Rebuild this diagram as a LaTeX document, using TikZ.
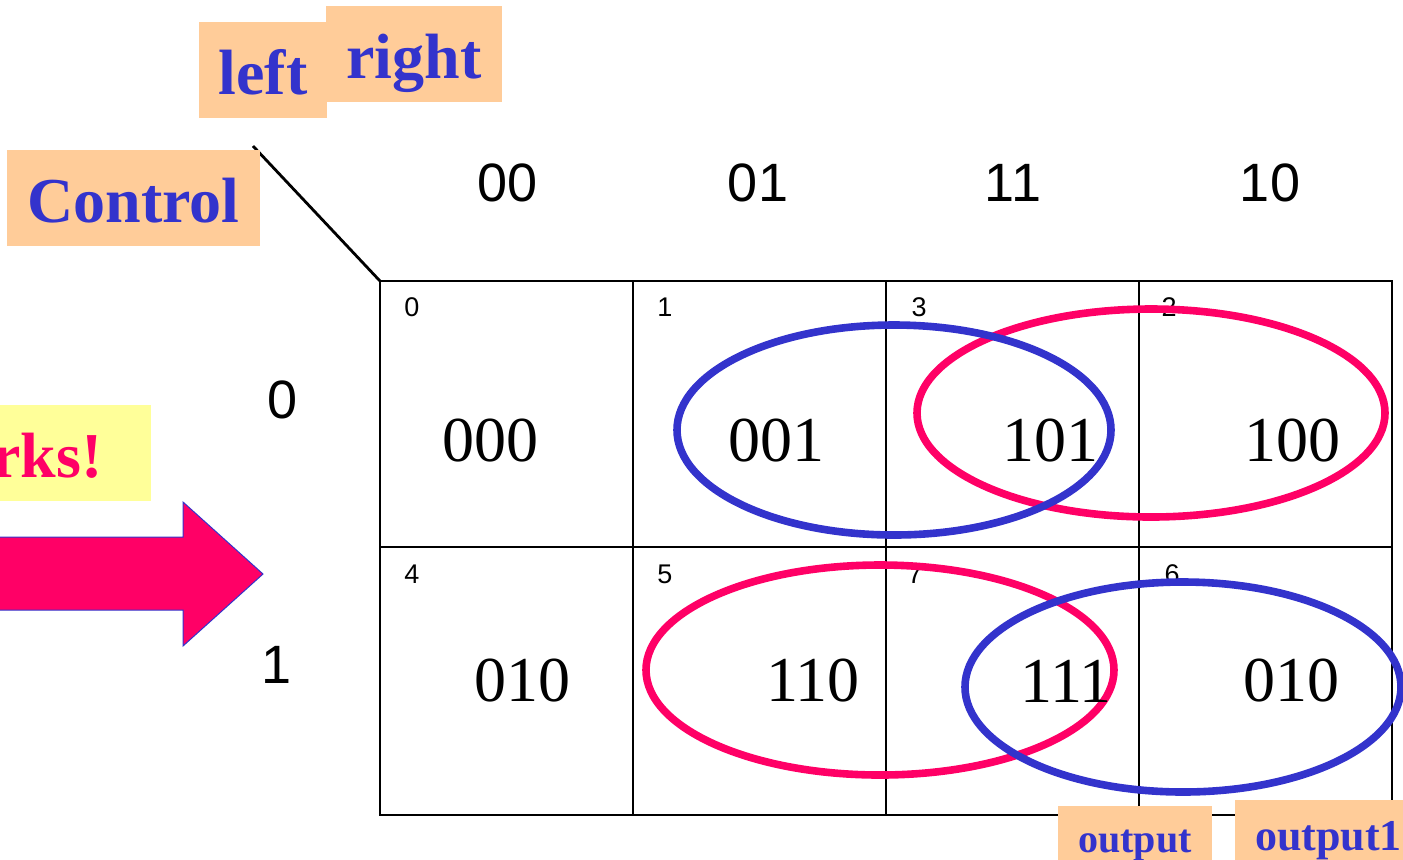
\documentclass[tikz,border=0pt]{standalone}
\usepackage{fontspec}
\setmainfont{Liberation Serif}
\newfontfamily\kmapsans{Liberation Sans}
\usepackage{xcolor}
\definecolor{MapBlue}  {HTML}{3333CC}
\definecolor{MapPink}  {HTML}{FF0066}
\definecolor{TagPeach} {HTML}{FFCC99}
\definecolor{TagYellow}{HTML}{FFFF99}
\usetikzlibrary{positioning}
\begin{document}
\begin{tikzpicture}[x=0.5pt,y=-0.5pt,
  tag/.style={fill=TagPeach,text=MapBlue,inner xsep=10pt,inner ysep=0pt,
    text height=36pt,text depth=12pt,
    font=\fontsize{32}{36}\selectfont\bfseries},
  smalltag/.style={tag,text height=23pt,
    font=\fontsize{20}{24}\selectfont\bfseries},
  hilite/.style={fill=TagYellow,text=MapPink,inner xsep=24pt,inner ysep=0pt,
    text height=36pt,text depth=12pt,text width=120pt,align=right,
    font=\fontsize{32}{36}\selectfont\bfseries},
  head/.style={font=\kmapsans\fontsize{27}{30}\selectfont,inner sep=0pt},
  idx/.style={font=\kmapsans\fontsize{13.5}{15}\selectfont,inner sep=0pt},
  val/.style={font=\fontsize{32}{36}\selectfont,inner sep=0pt},
  grp/.style={line width=3.8pt},
  cell/.style={line width=0.8pt}]
  \useasboundingbox (0,0) rectangle (1403,859);
  \clip (0,0) rectangle (1403,859);
  % Grid
  \draw[cell] (380,281) rectangle (1392,815);
  \draw[cell] (380,547) -- (1392,547);
  \draw[cell] (633,281) -- (633,815);
  \draw[cell] (886,281) -- (886,815);
  \draw[cell] (1139,281) -- (1139,815);
  \coordinate (corner) at (380,281);
  \coordinate (slashtop) at (253,146);
  \draw[line width=1.4pt] (slashtop) -- (corner);
  % Labels
  \node[tag](left) at (263,70) {left};
  \node[tag](right) at (414,54) {right};
  \node[tag](control) at (133.5,198) {Control};
  \node[hilite,anchor=east](works) at (151,453) {rks!};
  \draw[MapPink,fill=MapPink,draw=MapBlue,line width=0.5pt]
    (-10,537) -- (183,537) -- (183,502) -- (263,574) -- (183,646)
    -- (183,610) -- (-10,610) -- cycle;
  \node[head](c00) at (508,183) {00};
  \node[head](c01) at (758,183) {01};
  \node[head](c11) at (1013,183) {11};
  \node[head](c10) at (1270,183) {10};
  \node[head](r0) at (283,400) {0};
  \node[head](r1) at (277,665) {1};
  % Cell indices
  \node[idx](i0) at (412,307) {0};
  \node[idx](i1) at (665,307) {1};
  \node[idx](i3) at (919,307) {3};
  \node[idx](i2) at (1169,307) {2};
  \node[idx](i4) at (412,574) {4};
  \node[idx](i5) at (665,574) {5};
  \node[idx](i7) at (915,574) {7};
  \node[idx](i6) at (1172,574) {6};
  % Groups
  \draw[grp,MapPink] (1151,413) ellipse [x radius=234,y radius=104];
  \draw[grp,MapPink] (880,670) ellipse [x radius=234,y radius=105];
  \draw[grp,MapBlue] (894,430) ellipse [x radius=217,y radius=105];
  \draw[grp,MapBlue] (1183,687) ellipse [x radius=218,y radius=105];
  % Cell values
  \node[val](v0) at (490,441) {000};
  \node[val](v1) at (776,441) {001};
  \node[val](v3) at (1050,441) {101};
  \node[val](v2) at (1292,441) {100};
  \node[val](v4) at (522,681) {010};
  \node[val](v5) at (813,681) {110};
  \node[val](v7) at (1066,681) {111};
  \node[val](v6) at (1291,681) {010};
  \node[smalltag](out) at (1135,841) {output};
  \node[smalltag,text height=25pt,font=\fontsize{22}{26}\selectfont\bfseries]
    (out1) at (1328.5,837) {output1};
\end{tikzpicture}
\end{document}
